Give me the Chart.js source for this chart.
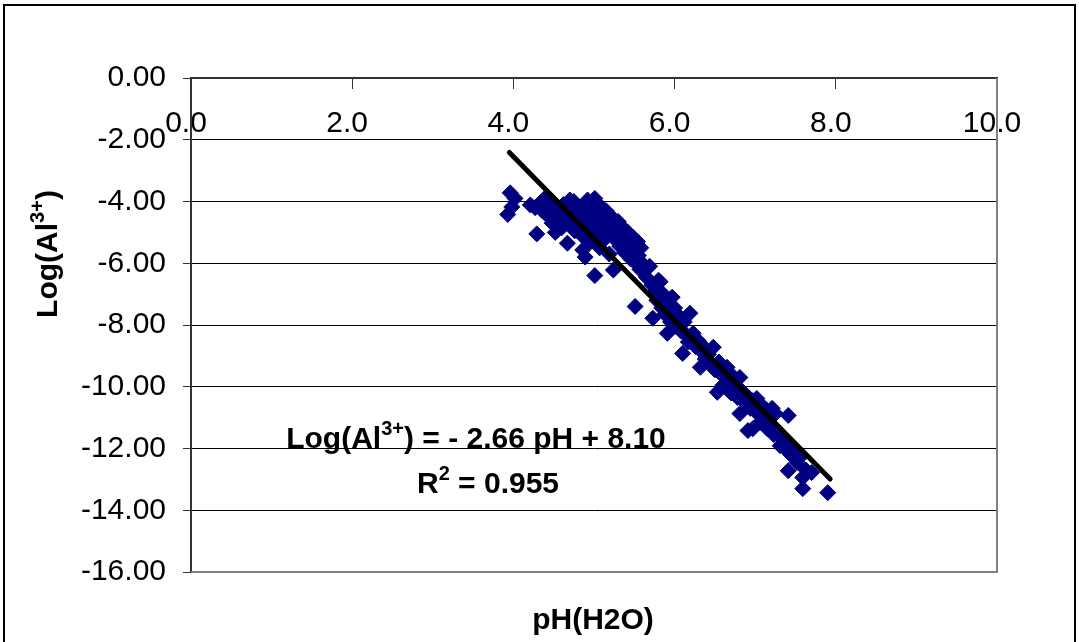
<!DOCTYPE html>
<html>
<head>
<meta charset="utf-8">
<script src="https://cdn.jsdelivr.net/npm/chart.js@4.4.1/dist/chart.umd.min.js"></script>
<style>
  html, body { margin: 0; padding: 0; background: #fff; }
  canvas { display: block; }
</style>
</head>
<body>
<canvas id="chart" width="1079" height="642"></canvas>
<script>
// axis ranges and tick steps
const xRange = [0, 10];
const xStep = 2;
const yRange = [-16, 0];
const yStep = 2;

// soil samples: pH(H2O) and Log(Al3+)
const phValues = [
    3.96, 4.02, 3.98, 3.93, 4.21, 4.27, 4.29, 4.39, 4.33, 4.52, 4.67, 4.70,
    4.36, 4.42, 4.45, 4.48, 4.50, 4.55, 4.58, 4.60, 4.62, 4.65, 4.70, 4.72,
    4.75, 4.76, 4.78, 4.80, 4.82, 4.85, 4.86, 4.88, 4.89, 4.90, 4.92, 4.94,
    4.96, 4.98, 5.00, 5.01, 5.01, 5.03, 5.05, 5.07, 5.08, 5.10, 5.12, 5.13,
    5.15, 5.17, 5.19, 5.20, 5.22, 5.24, 5.25, 5.27, 5.30, 5.32, 5.34, 5.36,
    5.38, 5.40, 5.42, 5.45, 5.46, 5.48, 5.50, 5.52, 5.54, 5.55, 5.57, 5.58,
    5.60,
    5.51, 5.61, 5.65, 5.69, 5.72, 5.73, 5.76, 5.78, 5.80, 5.82, 5.84, 5.86,
    5.88, 5.91, 5.92, 5.95, 5.97, 6.00, 6.02, 6.05, 6.08, 6.10, 6.12, 6.15,
    6.17, 6.19, 6.21, 6.23, 6.26, 6.29, 6.32, 6.32, 6.35,
    6.38, 6.42, 6.45, 6.48, 6.50, 6.53, 6.55, 6.58, 6.60, 6.62, 6.65, 6.68,
    6.70, 6.72, 6.75, 6.78, 6.81, 6.81, 6.84, 6.87, 6.90, 6.91, 6.94, 6.97,
    6.97,
    7.02, 7.04, 7.06, 7.10, 7.12, 7.15, 7.15, 7.18, 7.21, 7.23, 7.25, 7.27,
    7.31, 7.33, 7.36, 7.39, 7.41, 7.41, 7.44, 7.47, 7.49, 7.52, 7.55, 7.59,
    7.59, 7.63, 7.70, 7.90
];
const logAlValues = [
    -3.72, -3.90, -4.18, -4.42, -4.11, -4.20, -5.05, -3.90, -4.05, -5.00, -5.35, -3.95,
    -4.30, -4.45, -4.15, -4.70, -4.05, -4.35, -4.60, -4.85, -4.10, -4.45, -4.25, -4.70,
    -4.00, -4.95, -4.40, -4.15, -4.65, -5.10, -5.57, -4.30, -5.80, -4.85, -3.95, -4.55,
    -5.30, -4.20, -4.75, -6.40, -3.90, -5.05, -4.40, -5.50, -4.15, -4.90, -5.25, -4.60,
    -4.30, -5.00, -5.70, -4.75, -4.50, -6.22, -5.20, -4.95, -4.65, -5.45, -5.05, -4.85,
    -5.65, -5.25, -5.00, -5.85, -5.40, -5.15, -5.60, -6.00, -5.30, -5.75, -6.20, -5.50,
    -6.00,
    -7.40, -6.15, -6.45, -6.10, -6.70, -7.78, -6.90, -7.20, -6.55, -6.60, -7.45, -7.00,
    -7.65, -8.27, -7.30, -7.90, -7.10, -7.45, -8.05, -7.70, -8.20, -8.92, -7.90, -8.33,
    -8.55, -7.62, -8.40, -8.27, -8.70, -8.50, -8.60, -9.37, -8.90,
    -9.10, -8.95, -9.25, -8.72, -9.45, -10.18, -9.20, -9.60, -9.95, -9.40, -9.37, -9.80,
    -10.20, -9.65, -10.00, -10.35, -9.70, -10.87, -10.15, -10.50, -10.30, -11.42, -10.70, -10.45,
    -11.36,
    -10.38, -10.90, -11.15, -10.65, -11.05, -10.77, -11.36, -11.25, -10.70, -11.55, -10.87, -11.40,
    -11.91, -11.60, -11.75, -12.05, -10.93, -12.72, -12.20, -12.00, -12.23, -12.45, -12.30, -12.94,
    -13.30, -12.70, -12.78, -13.43
];

// fitted line end points
const trendX = [3.95, 7.93];
const trendY = [-2.41, -12.99];

const FONT = "'Liberation Sans', Arial, sans-serif";

// draw a string made of normal and superscript parts
function drawRich(ctx, parts, x, y, size) {
    const supSize = Math.round(size * 0.65);
    let w = 0;
    parts.forEach(p => {
        ctx.font = 'bold ' + (p.sup ? supSize : size) + 'px ' + FONT;
        w += ctx.measureText(p.t).width;
    });
    let cx = x - w / 2;
    parts.forEach(p => {
        ctx.font = 'bold ' + (p.sup ? supSize : size) + 'px ' + FONT;
        ctx.fillText(p.t, cx, p.sup ? y - size * 0.42 : y);
        cx += ctx.measureText(p.t).width;
    });
}

const decorPlugin = {
    id: 'decor',
    beforeDraw(chart) {
        const ctx = chart.ctx;
        ctx.save();
        ctx.fillStyle = '#fff';
        ctx.fillRect(0, 0, chart.width, chart.height);
        ctx.strokeStyle = '#000';
        ctx.lineWidth = 2;
        ctx.strokeRect(4, 5, 1071, 700);
        ctx.restore();
    },
    beforeDatasetsDraw(chart) {
        const ctx = chart.ctx;
        const a = chart.chartArea;
        ctx.save();
        ctx.strokeStyle = '#808080';
        ctx.lineWidth = 2;
        ctx.beginPath();
        ctx.moveTo(a.right, a.top);
        ctx.lineTo(a.right, a.bottom);
        ctx.lineTo(a.left, a.bottom);
        ctx.stroke();
        ctx.restore();
    },
    afterDatasetsDraw(chart) {
        const ctx = chart.ctx;
        ctx.save();
        ctx.fillStyle = '#000';
        ctx.textBaseline = 'alphabetic';
        ctx.textAlign = 'left';
        // regression equation
        drawRich(ctx, [{t: 'Log(Al'}, {t: '3+', sup: true}, {t: ') = - 2.66 pH + 8.10'}], 476, 448, 30);
        drawRich(ctx, [{t: 'R'}, {t: '2', sup: true}, {t: ' = 0.955'}], 488, 493, 30);
        // axis titles
        drawRich(ctx, [{t: 'pH(H2O)'}], 593, 629, 30);
        ctx.translate(57, 254);
        ctx.rotate(-Math.PI / 2);
        drawRich(ctx, [{t: 'Log(Al'}, {t: '3+', sup: true}, {t: ')'}], 0, 0, 30);
        ctx.restore();
    }
};

const scatterPoints = phValues.map((x, i) => ({x: x, y: logAlValues[i]}));
const trendPoints = trendX.map((x, i) => ({x: x, y: trendY[i]}));

new Chart(document.getElementById('chart').getContext('2d'), {
    type: 'scatter',
    data: {
        datasets: [{
            label: 'Trend',
            data: trendPoints,
            showLine: true,
            borderColor: '#000',
            borderWidth: 5,
            pointRadius: 0,
            borderCapStyle: 'round'
        }, {
            label: 'Log(Al3+)',
            data: scatterPoints,
            pointStyle: 'rectRot',
            pointRadius: 8,
            backgroundColor: '#000080',
            borderColor: '#000080',
            borderWidth: 1
        }]
    },
    options: {
        responsive: false,
        devicePixelRatio: 1,
        animation: false,
        events: [],
        layout: {
            padding: {left: 0, top: 78, right: 82, bottom: 70}
        },
        scales: {
            x: {
                type: 'linear',
                position: {y: 0},
                min: xRange[0],
                max: xRange[1],
                ticks: {
                    stepSize: xStep,
                    color: '#000',
                    font: {family: FONT, size: 30},
                    padding: 18,
                    labelOffset: -5,
                    maxRotation: 0,
                    callback: v => v.toFixed(1)
                },
                grid: {
                    drawOnChartArea: false,
                    drawTicks: true,
                    tickLength: 10,
                    tickColor: '#333',
                    tickWidth: 1
                },
                border: {display: true, color: '#333', width: 2}
            },
            y: {
                type: 'linear',
                position: 'left',
                min: yRange[0],
                max: yRange[1],
                afterFit: s => { s.width = 191; },
                ticks: {
                    stepSize: yStep,
                    color: '#000',
                    font: {family: FONT, size: 30},
                    padding: 17,
                    callback: v => v.toFixed(2)
                },
                grid: {
                    color: c => (c.tick && (c.tick.value === 0 || c.tick.value === -16)) ? 'rgba(0,0,0,0)' : '#000',
                    lineWidth: 1,
                    drawTicks: true,
                    tickLength: 8,
                    tickColor: '#333',
                    tickWidth: 1
                },
                border: {display: true, color: '#333', width: 2}
            }
        },
        plugins: {
            legend: {display: false},
            tooltip: {enabled: false}
        }
    },
    plugins: [decorPlugin]
});
</script>
</body>
</html>
